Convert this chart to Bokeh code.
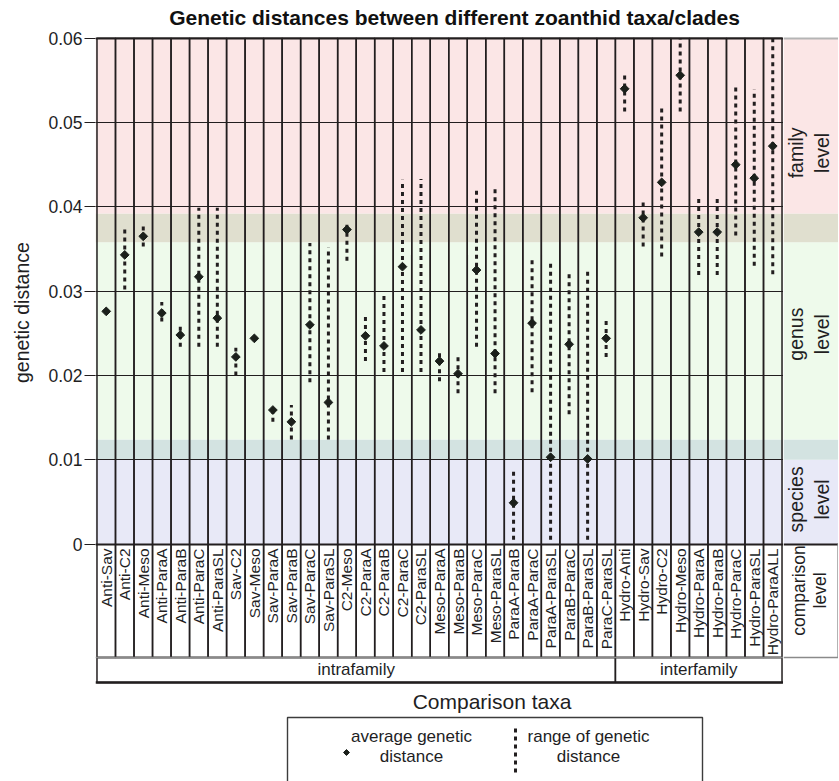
import math
from bokeh.plotting import figure
from bokeh.layouts import column, row
from bokeh.models import (FactorRange, Range1d, FixedTicker, BoxAnnotation,
                          ColumnDataSource, NumeralTickFormatter)
from bokeh.core.properties import value
from bokeh.embed import file_html
from bokeh.resources import INLINE

# ---------------- data ----------------
TITLE = "Genetic distances between different zoanthid taxa/clades"
Y_LABEL = "genetic distance"
X_LABEL = "Comparison taxa"

GROUPS = ["intrafamily", "interfamily"]
GROUP_SIZES = [28, 9]

CATEGORIES = [
    "Anti-Sav", "Anti-C2", "Anti-Meso", "Anti-ParaA", "Anti-ParaB", "Anti-ParaC",
    "Anti-ParaSL", "Sav-C2", "Sav-Meso", "Sav-ParaA", "Sav-ParaB", "Sav-ParaC",
    "Sav-ParaSL", "C2-Meso", "C2-ParaA", "C2-ParaB", "C2-ParaC", "C2-ParaSL",
    "Meso-ParaA", "Meso-ParaB", "Meso-ParaC", "Meso-ParaSL", "ParaA-ParaB",
    "ParaA-ParaC", "ParaA-ParaSL", "ParaB-ParaC", "ParaB-ParaSL", "ParaC-ParaSL",
    "Hydro-Anti", "Hydro-Sav", "Hydro-C2", "Hydro-Meso", "Hydro-ParaA",
    "Hydro-ParaB", "Hydro-ParaC", "Hydro-ParaSL", "Hydro-ParaALL",
]

AVERAGE = [
    0.0276, 0.0343, 0.0365, 0.0274, 0.0248, 0.0317,
    0.0268, 0.0222, 0.0244, 0.0159, 0.0145, 0.0260,
    0.0168, 0.0373, 0.0247, 0.0235, 0.0329, 0.0254,
    0.0217, 0.0202, 0.0325, 0.0226, 0.0049,
    0.0262, 0.0103, 0.0237, 0.0101, 0.0244,
    0.0540, 0.0387, 0.0429, 0.0556, 0.0370,
    0.0370, 0.0450, 0.0434, 0.0472,
]

RANGE_LOW = [
    0.0276, 0.0302, 0.0353, 0.0264, 0.0234, 0.0234,
    0.0234, 0.0200, 0.0244, 0.0145, 0.0124, 0.0192,
    0.0124, 0.0336, 0.0217, 0.0204, 0.0204, 0.0204,
    0.0193, 0.0179, 0.0234, 0.0179, 0.0005,
    0.0180, 0.0005, 0.0154, 0.0005, 0.0222,
    0.0513, 0.0353, 0.0341, 0.0513, 0.0319,
    0.0319, 0.0366, 0.0330, 0.0320,
]

RANGE_HIGH = [
    0.0276, 0.0376, 0.0377, 0.0287, 0.0258, 0.0399,
    0.0399, 0.0233, 0.0244, 0.0164, 0.0165, 0.0357,
    0.0352, 0.0381, 0.0273, 0.0299, 0.0432, 0.0433,
    0.0227, 0.0223, 0.0422, 0.0425, 0.0090,
    0.0337, 0.0336, 0.0322, 0.0323, 0.0267,
    0.0558, 0.0408, 0.0517, 0.0600, 0.0411,
    0.0411, 0.0542, 0.0539, 0.0600,
]

Y_TICKS = [0, 0.01, 0.02, 0.03, 0.04, 0.05, 0.06]
Y_TICK_LABELS = ["0", "0.01", "0.02", "0.03", "0.04", "0.05", "0.06"]

LEVEL_NAMES = ["family", "genus", "species"]
LEVEL_TEXT = ["family\nlevel", "genus\nlevel", "species\nlevel"]
LEVEL_LOW = [0.0358, 0.0100, 0.0]
LEVEL_HIGH = [0.0600, 0.0392, 0.0124]
LEVEL_TEXT_Y = [0.0464, 0.0249, 0.0053]
COMPARISON_LEVEL_TEXT = "comparison\nlevel"

LEGEND_AVG = "average genetic\ndistance"
LEGEND_RANGE = "range of genetic\ndistance"

# ---------------- style / layout ----------------
FONT = value("Liberation Sans")
DARK = "#221e1f"
GRAY = "#8a8a8a"
MARK = "#1b201b"
BAND_COLORS = {
    ("family",): "#fbe6e6",
    ("family", "genus"): "#e0dfcf",
    ("genus",): "#eefaeb",
    ("genus", "species"): "#d3e3e1",
    ("species",): "#e8e9f7",
}

Y_END = 0.0602
Y_START = -0.01689
LABEL_TOP = -0.00052
LABEL_BOTTOM = -0.01345
GROUP_BOTTOM = -0.01641
Y_LABEL_POS = 0.02746
COMPARISON_LEVEL_Y = -0.0055

TITLE_H = 30
ROW_H = 656
BOTTOM_H = 95
TOP_BORDER = 6


def band_segments():
    edges = sorted(set(LEVEL_LOW + LEVEL_HIGH))
    segs = []
    for lo, hi in zip(edges[:-1], edges[1:]):
        mid = (lo + hi) / 2
        key = tuple(n for n, a, b in zip(LEVEL_NAMES, LEVEL_LOW, LEVEL_HIGH) if a <= mid <= b)
        if key in BAND_COLORS:
            segs.append((lo, hi, BAND_COLORS[key]))
    return segs


def add_bands(fig):
    for lo, hi, col in band_segments():
        fig.add_layout(BoxAnnotation(bottom=lo, top=hi, fill_color=col, fill_alpha=1.0,
                                     line_color=None, level="underlay"))


def base_fig(**kw):
    f = figure(output_backend="svg", toolbar_location=None, tools="", title=None, **kw)
    f.outline_line_color = None
    f.grid.visible = False
    return f


# group membership for every category
cat_groups = []
for g, n in zip(GROUPS, GROUP_SIZES):
    cat_groups += [g] * n
factors = list(zip(cat_groups, CATEGORIES))

y_range = Range1d(Y_START, Y_END)
x_range = FactorRange(*factors, group_padding=0, factor_padding=0, subgroup_padding=0,
                      range_padding=0.08, range_padding_units="absolute")

# ---------------- title ----------------
pt = base_fig(width=838, height=TITLE_H, x_range=Range1d(0, 838), y_range=Range1d(TITLE_H, 0),
              x_axis_location=None, y_axis_location=None, min_border=0)
pt.text(x=[454], y=[17.2], text=[TITLE], text_align="center", text_baseline="middle",
        text_font=FONT, text_font_size="21px", text_font_style="bold", text_color="#111111")

# ---------------- main plot ----------------
p = base_fig(width=743, height=ROW_H, x_range=x_range, y_range=y_range,
             x_axis_location=None, y_axis_location="left",
             min_border_left=55, min_border_right=0, min_border_top=TOP_BORDER,
             min_border_bottom=0)
add_bands(p)

p.hspan(y=Y_TICKS[1:-1], line_color=DARK, line_width=1.1)
p.hspan(y=[0, 0.06], line_color=DARK, line_width=2.2)

src = ColumnDataSource(dict(x=factors, cat=CATEGORIES, avg=AVERAGE,
                            lo=RANGE_LOW, hi=RANGE_HIGH))

# column cells (plot area + label area)
p.vbar(x="x", width=1, bottom=LABEL_BOTTOM, top=0.06, source=src,
       fill_color=None, line_color=DARK, line_width=1.5)

# group row
gsrc = ColumnDataSource(dict(g=GROUPS, w=GROUP_SIZES))
p.vbar(x="g", width="w", bottom=GROUP_BOTTOM, top=LABEL_BOTTOM, source=gsrc,
       fill_color=None, line_color=DARK, line_width=1.5)
p.hspan(y=[GROUP_BOTTOM], line_color=DARK, line_width=2.6)
p.hspan(y=[LABEL_BOTTOM], line_color=GRAY, line_width=1.3)
p.text(x="g", y=(LABEL_BOTTOM + GROUP_BOTTOM) / 2, text="g", source=gsrc,
       text_align="center", text_baseline="middle", text_font=FONT,
       text_font_size="17px", text_color=DARK)

# ranges and averages
p.segment(x0="x", y0="lo", x1="x", y1="hi", source=src, line_color=DARK,
          line_width=3, line_dash="4 4", line_cap="butt")
p.scatter(x="x", y="avg", source=src, marker="square", angle=math.pi / 4, size=6.2,
          fill_color=MARK, line_color=MARK)

# category labels
p.text(x="x", y=LABEL_TOP, text="cat", source=src, angle=math.pi / 2,
       text_align="right", text_baseline="middle", text_font=FONT,
       text_font_size="15.5px", text_color=DARK)

yax = p.yaxis[0]
yax.ticker = FixedTicker(ticks=Y_TICKS, minor_ticks=[])
yax.formatter = NumeralTickFormatter(format="0.[00]")
yax.major_label_overrides = dict(zip(Y_TICKS, Y_TICK_LABELS))
yax.axis_line_color = None
yax.major_tick_out = 11
yax.major_tick_in = 0
yax.minor_tick_out = 0
yax.minor_tick_in = 0
yax.major_tick_line_color = DARK
yax.major_tick_line_width = 1.2
yax.major_label_standoff = 2
yax.major_label_text_font = "Liberation Sans"
yax.major_label_text_font_size = "17.5px"
yax.major_label_text_color = DARK

# ---------------- y label column ----------------
pl = base_fig(width=40, height=ROW_H, x_range=Range1d(0, 40), y_range=y_range,
              x_axis_location=None, y_axis_location=None,
              min_border_left=0, min_border_right=0, min_border_top=TOP_BORDER,
              min_border_bottom=0)
pl.text(x=[21], y=[Y_LABEL_POS], text=[Y_LABEL], angle=math.pi / 2,
        text_align="center", text_baseline="middle", text_font=FONT,
        text_font_size="19.5px", text_color=DARK)

# ---------------- comparison level column ----------------
pr = base_fig(width=55, height=ROW_H, x_range=Range1d(0, 55), y_range=y_range,
              x_axis_location=None, y_axis_location=None,
              min_border_left=0, min_border_right=0, min_border_top=TOP_BORDER,
              min_border_bottom=0)
add_bands(pr)
pr.hspan(y=[0.06], line_color="#b5b5b5", line_width=2.2)
pr.hspan(y=[0], line_color=DARK, line_width=2.2)
pr.hspan(y=[LABEL_BOTTOM], line_color=GRAY, line_width=1.3)
pr.segment(x0=[54.5], y0=[LABEL_BOTTOM], x1=[54.5], y1=[0], line_color=GRAY, line_width=1.3)
pr.text(x=[25.5] * len(LEVEL_TEXT), y=LEVEL_TEXT_Y, text=LEVEL_TEXT, angle=math.pi / 2,
        text_align="center", text_baseline="middle", text_font=FONT,
        text_font_size="19.5px", text_color=DARK, text_line_height=1.2)
pr.text(x=[26], y=[COMPARISON_LEVEL_Y], text=[COMPARISON_LEVEL_TEXT], angle=math.pi / 2,
        text_align="center", text_baseline="middle", text_font=FONT,
        text_font_size="17.5px", text_color=DARK, text_line_height=1.05)

# ---------------- axis title + legend ----------------
pb = base_fig(width=838, height=BOTTOM_H, x_range=Range1d(0, 838), y_range=Range1d(BOTTOM_H, 0),
              x_axis_location=None, y_axis_location=None, min_border=0)
pb.text(x=[491.5], y=[15], text=[X_LABEL], text_align="center", text_baseline="middle",
        text_font=FONT, text_font_size="21px", text_color=DARK)
pb.quad(left=[287], right=[702], top=[31], bottom=[140], fill_color=None,
        line_color="#3c3c3c", line_width=1.4)
pb.scatter(x=[346], y=[66], marker="square", angle=math.pi / 4, size=4.2,
           fill_color=MARK, line_color=MARK)
pb.text(x=[411], y=[60], text=[LEGEND_AVG], text_align="center", text_baseline="middle",
        text_font=FONT, text_font_size="17px", text_color=DARK, text_line_height=1.05)
pb.segment(x0=[515], y0=[42], x1=[515], y1=[86], line_color=DARK, line_width=3,
           line_dash="4 4", line_cap="butt")
pb.text(x=[588], y=[60], text=[LEGEND_RANGE], text_align="center", text_baseline="middle",
        text_font=FONT, text_font_size="17px", text_color=DARK, text_line_height=1.05)

layout = column(pt, row(pl, p, pr), pb)
open("out.html", "w").write(file_html(layout, INLINE))
